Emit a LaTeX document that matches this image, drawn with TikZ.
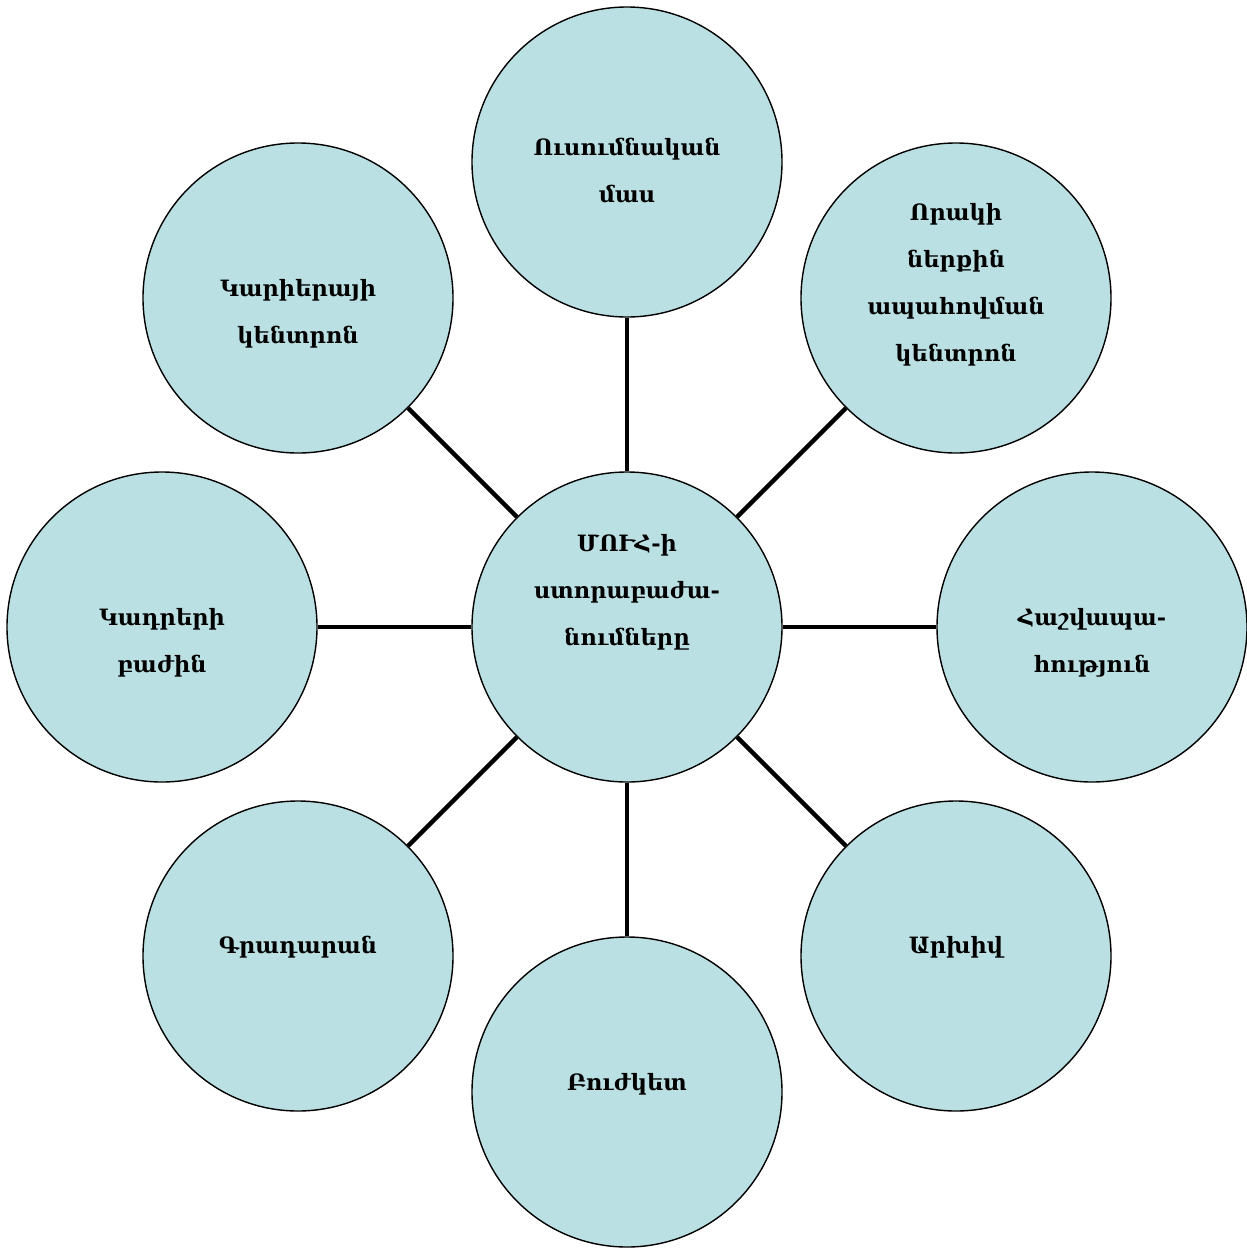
\documentclass[tikz,border=0pt]{standalone}
\usepackage{fontspec}
\setmainfont{DejaVu Serif}
\newfontfamily\armfont{DejaVu Serif}
\definecolor{cfill}{RGB}{187,224,227}
\tikzset{
  unit/.style={circle, draw=black, line width=1.4pt, fill=cfill, minimum size=310pt, inner sep=0pt},
  lbl/.style={align=center, font=\armfont\bfseries\fontsize{22.5}{47}\selectfont, inner sep=0pt},
  conn/.style={line width=4.5pt}
}
\begin{document}
\begin{tikzpicture}[x=1pt,y=-1pt]
\useasboundingbox (0,0) rectangle (1247,1248);
\node[unit] (c)  at (627,627) {};
\node[unit] (t)  at (627,162) {};
\node[unit] (ur) at (956,298) {};
\node[unit] (r)  at (1092,627) {};
\node[unit] (lr) at (956,956) {};
\node[unit] (b)  at (627,1092) {};
\node[unit] (ll) at (298,956) {};
\node[unit] (l)  at (162,627) {};
\node[unit] (ul) at (298,298) {};
\foreach \n in {t,ur,r,lr,b,ll,l,ul} \draw[conn] (c) -- (\n);
\node[lbl] (tc)  at (627,592) {ՄՈՒՀ-ի\\ստորաբաժա-\\նումները};
\node[lbl] (tt)  at (627,170) {Ուսումնական\\մաս};
\node[lbl] (tur) at (956,285) {Որակի\\ներքին\\ապահովման\\կենտրոն};
\node[lbl] (tr)  at (1092,643) {Հաշվապա-\\հություն};
\node[lbl] (tlr) at (956,947) {Արխիվ};
\node[lbl] (tb)  at (627,1084) {Բուժկետ};
\node[lbl] (tll) at (298,947) {Գրադարան};
\node[lbl] (tl)  at (162,643) {Կադրերի\\բաժին};
\node[lbl] (tul) at (298,314) {Կարիերայի\\կենտրոն};
\end{tikzpicture}
\end{document}
